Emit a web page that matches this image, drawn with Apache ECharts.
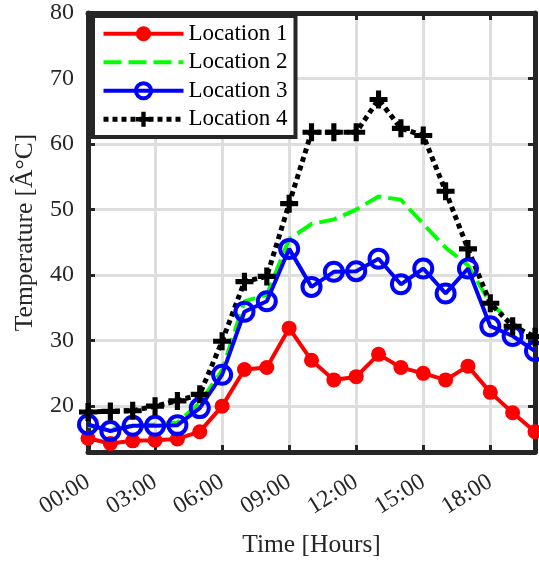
<!DOCTYPE html>
<html>
<head>
<meta charset="utf-8">
<script src="https://cdn.jsdelivr.net/npm/echarts@6/dist/echarts.min.js"></script>
<style>html,body{margin:0;padding:0;background:#fff;}#c{width:539px;height:563px;}</style>
</head>
<body>
<div id="c"></div>
<script>
const hours = [0,1,2,3,4,5,6,7,8,9,10,11,12,13,14,15,16,17,18,19,20];
const location1 = [15.1,14.3,14.7,14.8,15.0,16.1,20.0,25.6,25.9,31.9,27.0,24.0,24.5,27.9,25.9,25.0,24.0,26.1,22.1,19.0,16.1];
const location2 = [17.0,16.5,17.0,17.2,17.5,20.5,25.5,36.0,37.0,45.5,47.8,48.5,50.0,52.0,51.5,47.8,44.2,41.5,35.7,32.7,30.2];
const location3 = [17.2,16.2,17.0,17.0,17.1,19.7,24.8,34.4,36.0,44.0,38.2,40.5,40.6,42.5,38.6,41.0,37.2,41.0,32.2,30.7,28.4];
const location4 = [19.1,19.2,19.3,20.0,20.8,21.8,29.9,39.0,39.8,50.9,61.8,61.8,61.8,66.8,62.4,61.3,52.8,44.0,35.7,32.2,30.6];
const seriesNames = ['Location 1','Location 2','Location 3','Location 4'];
const xTitle = 'Time [Hours]';
const yTitle = 'Temperature [Â°C]';

const FONT = 'Liberation Serif';
const AX = '#262626';
const pair = (arr) => hours.map((h, i) => [h, arr[i]]);
const plus = 'path://M2.5,0 H4.5 V2.5 H7 V4.5 H4.5 V7 H2.5 V4.5 H0 V2.5 H2.5 Z';

const chart = echarts.init(document.getElementById('c'), null, {renderer: 'canvas'});
const axisCommon = {
  axisLine: {show: true, onZero: false, lineStyle: {color: AX, width: 5}},
  axisTick: {show: true, inside: true, length: 7, lineStyle: {color: AX, width: 3}},
};
chart.setOption({
  animation: false,
  backgroundColor: '#ffffff',
  grid: {left: 88, right: 4, top: 13, bottom: 106, containLabel: false},
  legend: {
    orient: 'vertical', left: 93, top: 16,
    backgroundColor: '#ffffff', borderColor: AX, borderWidth: 4,
    padding: [6, 8, 6, 8],
    itemWidth: 80, itemHeight: 19, itemGap: 5, itemTextGap: 6,
    textStyle: {fontFamily: FONT, fontSize: 23, lineHeight: 23.5, color: '#000000'},
    data: [
      {name: seriesNames[0], lineStyle: {width: 4}},
      {name: seriesNames[1], lineStyle: {width: 4}, itemStyle: {opacity: 0}},
      {name: seriesNames[2], lineStyle: {width: 4}, itemStyle: {borderWidth: 4, borderColor: '#0000ff'}},
      {name: seriesNames[3], lineStyle: {width: 5}}
    ]
  },
  xAxis: [
    Object.assign({
      type: 'value', position: 'bottom', min: 0, max: 20, interval: 3,
      name: xTitle, nameLocation: 'middle', nameGap: 80,
      nameTextStyle: {fontFamily: FONT, fontSize: 25.5, color: AX},
      axisLabel: {rotate: 32, margin: 28, fontFamily: FONT, fontSize: 24, color: AX, showMaxLabel: false,
        formatter: v => (v < 10 ? '0' + v : '' + v) + ':00'},
      splitLine: {show: true, lineStyle: {color: '#dedede', width: 3}}
    }, axisCommon),
    Object.assign({
      type: 'value', position: 'top', min: 0, max: 20, interval: 3,
      axisLabel: {show: false}, splitLine: {show: false}
    }, axisCommon)
  ],
  yAxis: [
    Object.assign({
      type: 'value', position: 'left', min: 13, max: 80, splitNumber: 7,
      name: yTitle, nameLocation: 'middle', nameGap: 50,
      nameTextStyle: {fontFamily: FONT, fontSize: 25.5, color: AX},
      axisLabel: {margin: 14, fontFamily: FONT, fontSize: 24, color: AX, showMinLabel: false},
      splitLine: {show: true, lineStyle: {color: '#dedede', width: 3}}
    }, axisCommon),
    Object.assign({
      type: 'value', position: 'right', min: 13, max: 80, splitNumber: 7,
      axisLabel: {show: false}, splitLine: {show: false}
    }, axisCommon)
  ],
  series: [
    {name: seriesNames[0], type: 'line', data: pair(location1),
     symbol: 'circle', symbolSize: 15,
     lineStyle: {color: '#ff0000', width: 4},
     itemStyle: {color: '#ff0000'}},
    {name: seriesNames[1], type: 'line', data: pair(location2),
     symbol: 'none', showSymbol: false,
     lineStyle: {color: '#00ff00', width: 4, type: [18, 7]},
     itemStyle: {color: '#00ff00'}},
    {name: seriesNames[2], type: 'line', data: pair(location3),
     symbol: 'circle', symbolSize: 18,
     lineStyle: {color: '#0000ff', width: 4},
     itemStyle: {color: 'rgba(0,0,0,0)', borderColor: '#0000ff', borderWidth: 4}},
    {name: seriesNames[3], type: 'line', data: pair(location4),
     symbol: plus, symbolSize: 18,
     lineStyle: {color: '#000000', width: 5, type: [5, 4]},
     itemStyle: {color: '#000000'}}
  ]
});
</script>
</body>
</html>
